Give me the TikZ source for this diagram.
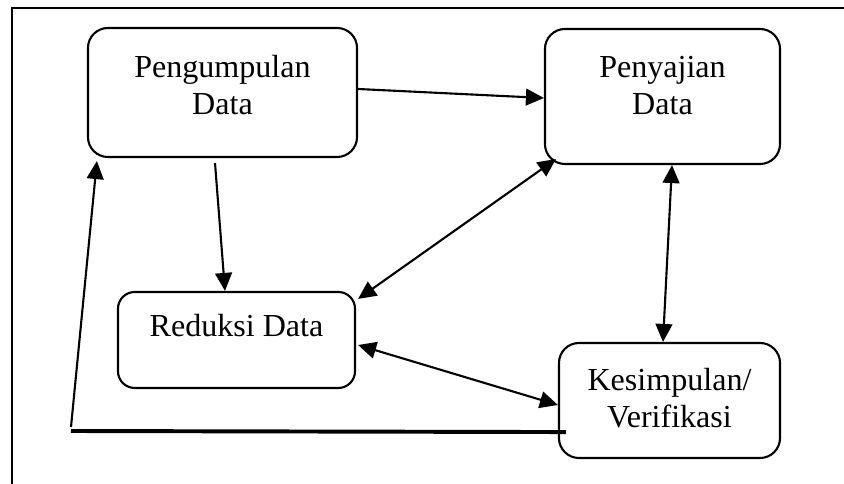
\documentclass[tikz,border=0pt]{standalone}
\usepackage{fontspec}
\setmainfont{Liberation Serif}
\usetikzlibrary{arrows.meta,calc}

\begin{document}
\begin{tikzpicture}[x=0.025cm, y=-0.025cm, line width=1.5pt, >={Triangle[length=0.45cm,width=0.42cm]}]
  \tikzstyle{pnode} = [draw=black, rectangle, rounded corners=0.5cm, inner sep=0pt, text height=0.55cm, font=\fontsize{22.8}{26.3}\selectfont]
  \useasboundingbox (0,0) rectangle (844,484);

  %%%%%%%%%%%%%%%%%%%%%%%%%%%%%%
  %% The frame
  %%%%%%%%%%%%%%%%%%%%%%%%%%%%%%
  \draw (12,484) -- (12,8) -- (844,8);

  %%%%%%%%%%%%%%%%%%%%%%%%%%%%%%
  %% The four steps
  %%%%%%%%%%%%%%%%%%%%%%%%%%%%%%
  \node[pnode, minimum width=6.725cm, minimum height=3.225cm, text depth=1.3cm] (peng) at (222.5,92.5) {\begin{tabular}[t]{@{}c@{}}Pengumpulan\\ Data\end{tabular}};
  \node[pnode, minimum width=5.875cm, minimum height=3.375cm, text depth=1.5cm] (penyaj) at (662.5,96.5) {\begin{tabular}[t]{@{}c@{}}Penyajian\\ Data\end{tabular}};
  \node[pnode, minimum width=5.925cm, minimum height=2.4cm, rounded corners=0.42cm, text depth=0.7cm] (reduksi) at (236.5,340) {Reduksi Data};
  \node[pnode, minimum width=5.525cm, minimum height=2.875cm, text depth=1.025cm] (kesimp) at (669.5,400.5) {\begin{tabular}[t]{@{}c@{}}Kesimpulan/\\ Verifikasi\end{tabular}};

  \coordinate (lineL) at (71,431);
  \coordinate (lineR) at ($(kesimp.south west)+(8,-27)$);

  % edges
  \draw[->] ($(peng.east)+(0,-3.5)$) -- ($(penyaj.west)+(0,1.5)$);
  \draw[->] ($(peng.south)+(-7.5,5)$) -- ($(reduksi.north)+(-11.5,0)$);
  \draw[<->] ($(penyaj.south west)+(12,-6)$) -- ($(reduksi.north east)+(2,8)$);
  \draw[<->] ($(penyaj.south)+(9.5,0)$) -- ($(kesimp.north)+(-6.5,0)$);
  \draw[<->] ($(reduksi.east)+(2,5)$) -- ($(kesimp.west)+(0,4.5)$);

  % back to the start
  \draw[line width=2.8pt] (lineL) -- (lineR);
  \draw[->] ($(lineL)+(0,-4)$) -- ($(peng.south west)+(10,3)$);
\end{tikzpicture}
\end{document}
